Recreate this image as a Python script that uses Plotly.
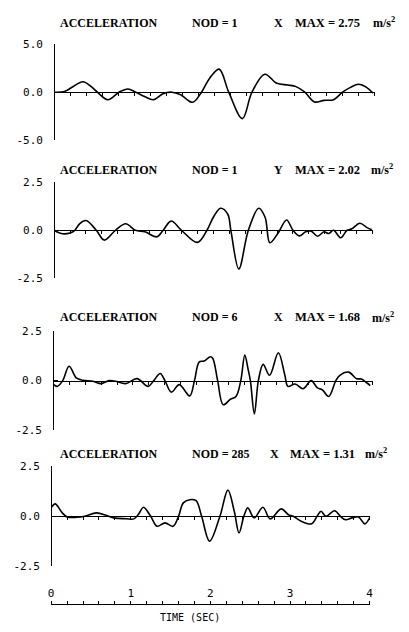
import plotly.graph_objects as go

W, H = 409, 632

# ---------------- data ----------------
t1 = [0.0, 0.13, 0.24, 0.36, 0.46, 0.54, 0.67, 0.81, 0.92, 1.02,
      1.13, 1.24, 1.36, 1.47, 1.58, 1.73, 1.84, 1.94, 2.06, 2.18,
      2.35, 2.47, 2.63, 2.78, 2.92, 3.02, 3.13, 3.25, 3.37, 3.49,
      3.60, 3.70, 3.80, 3.90, 3.98]
a1 = [0.0, 0.07, 0.6, 1.09, 0.6, 0.0, -0.78, 0.0, 0.34, 0.0,
      -0.45, -0.78, -0.15, 0.0, -0.27, -1.05, 0.0, 1.43, 2.40, 0.0,
      -2.75, 0.0, 1.87, 0.92, 0.75, 0.58, 0.0, -1.02, -0.85, -0.78,
      0.0, 0.5, 0.82, 0.5, -0.1]

t2 = [0.0, 0.09, 0.2, 0.26, 0.32, 0.40, 0.53, 0.63, 0.77, 0.90,
      1.02, 1.14, 1.29, 1.37, 1.47, 1.60, 1.80, 1.92, 2.0, 2.09,
      2.18, 2.22, 2.32, 2.44, 2.57, 2.65, 2.71, 2.81, 2.92, 3.0,
      3.08, 3.16, 3.23, 3.31, 3.39, 3.45, 3.51, 3.60, 3.68, 3.74,
      3.84, 3.93, 3.99]
a2 = [0.0, -0.17, -0.14, 0.0, 0.34, 0.51, 0.0, -0.51, 0.0, 0.34,
      0.0, -0.08, -0.34, 0.0, 0.48, 0.0, -0.63, 0.0, 0.68, 1.15,
      0.85, 0.0, -2.02, 0.0, 1.15, 0.68, -0.65, -0.17, 0.54, 0.0,
      -0.29, -0.08, -0.05, -0.31, -0.08, -0.17, 0.0, -0.39, 0.0, 0.08,
      0.37, 0.14, 0.03]

t3 = [0.0, 0.05, 0.12, 0.20, 0.29, 0.37, 0.50, 0.60, 0.70, 0.78,
      0.91, 1.05, 1.19, 1.26, 1.34, 1.40, 1.48, 1.58, 1.71, 1.77,
      1.83, 1.89, 1.97, 2.00, 2.06, 2.13, 2.22, 2.29, 2.35, 2.40,
      2.44, 2.47, 2.52, 2.57, 2.63, 2.71, 2.82, 2.90, 2.94, 3.03,
      3.13, 3.23, 3.31, 3.37, 3.45, 3.54, 3.59, 3.70, 3.80, 3.86,
      3.93, 3.97]
a3 = [-0.17, -0.29, 0.0, 0.73, 0.14, 0.02, -0.03, -0.15, 0.0, -0.03,
      -0.15, 0.1, -0.29, 0.0, 0.36, 0.0, -0.58, -0.2, -0.77, 0.0,
      0.95, 0.99, 1.21, 1.12, 0.0, -1.22, -0.94, -0.8, 0.0, 1.29,
      0.6, 0.0, -1.68, 0.0, 0.82, 0.27, 1.41, 0.31, -0.29, -0.17,
      -0.41, 0.0, -0.37, -0.46, -0.8, 0.0, 0.27, 0.43, 0.1, 0.08,
      -0.12, -0.25]

t4 = [0.0, 0.05, 0.14, 0.20, 0.32, 0.42, 0.57, 0.69, 0.79, 0.94,
      1.04, 1.10, 1.16, 1.25, 1.33, 1.43, 1.53, 1.60, 1.66, 1.74,
      1.82, 1.89, 1.99, 2.12, 2.22, 2.30, 2.36, 2.42, 2.47, 2.55,
      2.66, 2.75, 2.89, 2.98, 3.04, 3.14, 3.27, 3.34, 3.39, 3.45,
      3.56, 3.64, 3.70, 3.78, 3.86, 3.94, 4.0]
a4 = [0.42, 0.62, 0.17, -0.03, -0.05, 0.0, 0.17, 0.05, -0.08, -0.12,
      -0.13, 0.12, 0.45, 0.0, -0.5, -0.33, -0.5, 0.0, 0.67, 0.83,
      0.78, 0.0, -1.25, 0.0, 1.31, 0.25, -0.83, 0.0, 0.42, -0.08,
      0.45, -0.13, 0.37, 0.08, 0.0, -0.25, -0.38, 0.0, 0.25, 0.0,
      0.28, -0.03, -0.17, -0.08, -0.03, -0.38, -0.08]

nod = ["1", "1", "6", "285"]
comp = ["X", "Y", "X", "X"]
amax = ["2.75", "2.02", "1.68", "1.31"]
yrange = [5.0, 2.5, 2.5, 2.5]
ytickvals = [[-5, 0, 5], [-2.5, 0, 2.5], [-2.5, 0, 2.5], [-2.5, 0, 2.5]]
yticktext = [["-5.0", "0.0", "5.0"], ["-2.5", "0.0", "2.5"],
             ["-2.5", "0.0", "2.5"], ["-2.5", "0.0", "2.5"]]
time_major = [0, 1, 2, 3, 4]
time_labels = ["0", "1", "2", "3", "4"]
time_minor_step = 0.2
x_range = [0, 4]

T = [t1, t2, t3, t4]
A = [a1, a2, a3, a4]

# ---------------- layout geometry (pixels) ----------------
panel_top = [39, 180, 332, 470]
panel_bot = [137, 278, 433, 572]
panel_x0 = [52, 52, 51, 49]
panel_x1 = [378, 376, 376, 373]
title_y = [17, 167, 318, 457]
title_x = [(56, 190, 274, 295, 374), (56, 190, 274, 295, 372),
           (56, 190, 274, 295, 373), (56, 190, 270, 290, 366)]
time_axis_y = 611
time_x0, time_x1 = 49, 373


def px(x):
    return x / W


def py(y):
    return 1 - y / H


fig = go.Figure()
layout = dict(
    width=W, height=H,
    margin=dict(l=0, r=0, t=0, b=0),
    paper_bgcolor="white", plot_bgcolor="rgba(0,0,0,0)",
    showlegend=False,
)

tick_font = dict(family="DejaVu Sans Mono", size=11, color="black")
title_font = dict(family="Liberation Serif", size=12, color="black")
max_font = dict(family="Liberation Serif", size=12.5, color="black")

annotations = []
for i in range(4):
    xs = "x" if i == 0 else f"x{i+1}"
    ys = "y" if i == 0 else f"y{i+1}"
    fig.add_trace(go.Scatter(
        x=T[i], y=A[i], xaxis=xs, yaxis=ys, mode="lines",
        line=dict(color="black", width=1.6, shape="spline", smoothing=1.0),
        hoverinfo="skip",
    ))
    zero_px = (panel_top[i] + panel_bot[i]) / 2
    xkey = "xaxis" if i == 0 else f"xaxis{i+1}"
    ykey = "yaxis" if i == 0 else f"yaxis{i+1}"
    layout[xkey] = dict(
        domain=[px(panel_x0[i]), px(panel_x1[i])], range=x_range,
        anchor="free", position=py(zero_px),
        showline=True, linecolor="black", linewidth=1,
        ticks="outside", ticklen=3, tickwidth=1, tickcolor="black",
        tick0=0, dtick=time_minor_step, showticklabels=False,
        showgrid=False, zeroline=False, fixedrange=True,
    )
    layout[ykey] = dict(
        domain=[py(panel_bot[i]), py(panel_top[i])],
        range=[-yrange[i], yrange[i]],
        anchor="free", position=px(panel_x0[i]),
        showline=True, linecolor="black", linewidth=1,
        ticks="inside", ticklen=4, tickwidth=1, tickcolor="black",
        tickvals=ytickvals[i], ticktext=yticktext[i], tickfont=tick_font,
        ticklabelstandoff=9,
        showgrid=False, zeroline=False, fixedrange=True,
    )
    parts = ["<b>ACCELERATION</b>", f"<b>NOD = {nod[i]}</b>", f"<b>{comp[i]}</b>",
             f"<b>MAX = {amax[i]}</b>", "<b>m/s<sup>2</sup></b>"]
    fonts = [title_font, title_font, title_font, max_font, title_font]
    for txt, xp, fnt in zip(parts, title_x[i], fonts):
        annotations.append(dict(
            text=txt, x=px(xp), y=py(title_y[i]), xref="paper", yref="paper",
            xanchor="left", yanchor="middle", showarrow=False, font=fnt,
        ))

# bottom time axis
fig.add_trace(go.Scatter(
    x=[x_range[0], x_range[1]], y=[0, 0], xaxis="x5", yaxis="y5",
    mode="lines", line=dict(width=0, color="rgba(0,0,0,0)"), hoverinfo="skip",
))
layout["xaxis5"] = dict(
    domain=[px(time_x0), px(time_x1)], range=x_range,
    anchor="free", position=py(time_axis_y), side="top",
    showline=True, linecolor="black", linewidth=1,
    ticks="outside", ticklen=3, tickwidth=1, tickcolor="black",
    tickvals=time_major, ticktext=time_labels, tickfont=tick_font,
    minor=dict(tick0=0, dtick=time_minor_step, ticks="outside", ticklen=3,
               tickwidth=1, tickcolor="black", showgrid=False),
    showgrid=False, zeroline=False, fixedrange=True,
)
layout["yaxis5"] = dict(
    domain=[py(time_axis_y + 2), py(time_axis_y)], range=[-1, 1],
    anchor="x5", visible=False, fixedrange=True,
)
annotations.append(dict(
    text="TIME (SEC)", x=px(190), y=py(624), xref="paper", yref="paper",
    xanchor="center", yanchor="middle", showarrow=False,
    font=dict(family="DejaVu Sans Mono", size=10, color="black"),
))

layout["annotations"] = annotations
fig.update_layout(**layout)
fig.write_html("out.html", config={"displayModeBar": False})
